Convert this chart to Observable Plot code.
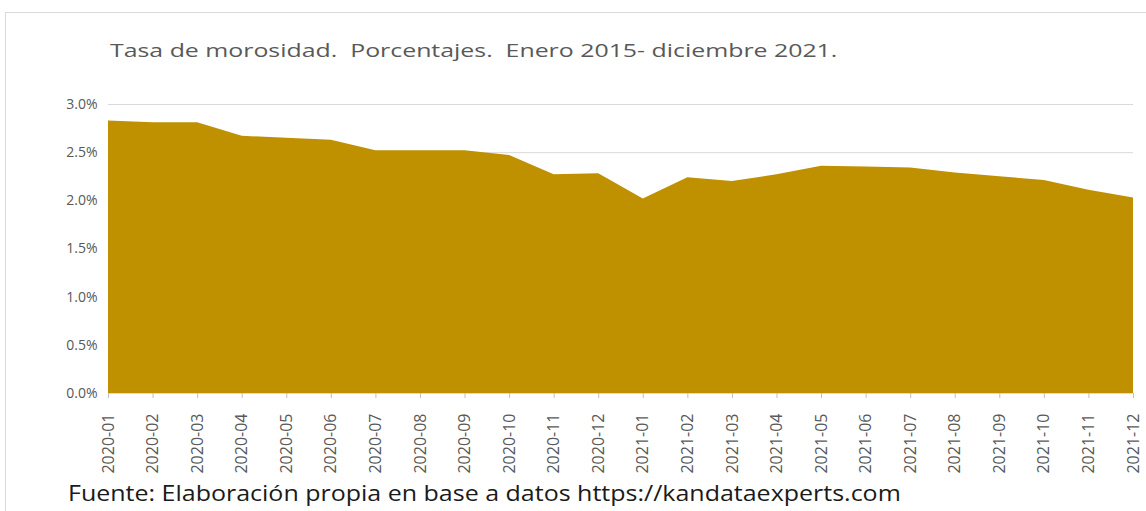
<!DOCTYPE html>
<html>
<head>
<meta charset="utf-8">
<script src="https://cdn.jsdelivr.net/npm/d3@7"></script>
<script src="https://cdn.jsdelivr.net/npm/@observablehq/plot@0.6"></script>
<style>
  html, body { margin: 0; padding: 0; background: #fff; }
  #wrap { position: relative; width: 1146px; height: 511px; overflow: hidden; font-family: "Open Sans", "Liberation Sans", sans-serif; }
  #frame { position: absolute; left: 5px; top: 12px; width: 1160px; height: 540px; border: 1px solid #d9d9d9; box-sizing: border-box; }
  #title { position: absolute; left: 110px; top: 41px; font-size: 18.5px; line-height: 1; color: #595959; white-space: pre; transform: scaleX(1.344); transform-origin: 0 0; }
  #chart { position: absolute; left: 0; top: 0; }
  #foot { position: absolute; left: 68px; top: 483px; font-size: 21px; line-height: 1; color: #1a1a1a; white-space: pre; transform: scaleX(1.19); transform-origin: 0 0; }
</style>
</head>
<body>
<div id="wrap">
  <div id="frame"></div>
  <div id="chart"></div>
  <div id="title">Tasa de morosidad.  Porcentajes.  Enero 2015- diciembre 2021.</div>
  <div id="foot">Fuente: Elaboración propia en base a datos https://kandataexperts.com</div>
</div>
<script>
const months = ["2020-01","2020-02","2020-03","2020-04","2020-05","2020-06","2020-07","2020-08","2020-09","2020-10","2020-11","2020-12",
                "2021-01","2021-02","2021-03","2021-04","2021-05","2021-06","2021-07","2021-08","2021-09","2021-10","2021-11","2021-12"];
const rates = [2.83,2.81,2.81,2.67,2.65,2.63,2.52,2.52,2.52,2.47,2.27,2.28,
               2.02,2.24,2.20,2.27,2.36,2.35,2.34,2.29,2.25,2.21,2.11,2.03];
const yTicks = [0,0.005,0.01,0.015,0.02,0.025,0.03];

const data = months.map((m, i) => ({month: m, rate: rates[i] / 100}));

const chart = Plot.plot({
  width: 1146,
  height: 480,
  marginLeft: 108,
  marginRight: 13,
  marginTop: 104,
  marginBottom: 87,
  style: {fontFamily: "'Open Sans', 'Liberation Sans', sans-serif", background: "transparent"},
  x: {type: "point", domain: months, padding: 0, round: false},
  y: {domain: [0, 0.03]},
  marks: [
    Plot.ruleY(yTicks.slice(1), {stroke: "#d9d9d9", strokeWidth: 1}),
    Plot.areaY(data, {x: "month", y: "rate", fill: "#bf9000"}),
    Plot.ruleY([0], {stroke: "#d9d9d9", strokeWidth: 1}),
    Plot.axisY({ticks: yTicks, tickFormat: d3.format(".1%"), tickSize: 0, tickPadding: 11, fontSize: 14, color: "#595959", label: null}),
    Plot.axisX({tickRotate: -90, tickSize: 5, tickPadding: 15, fontSize: 16, color: "#595959", stroke: "#bfbfbf", label: null})
  ]
});
document.getElementById("chart").appendChild(chart);
</script>
</body>
</html>
